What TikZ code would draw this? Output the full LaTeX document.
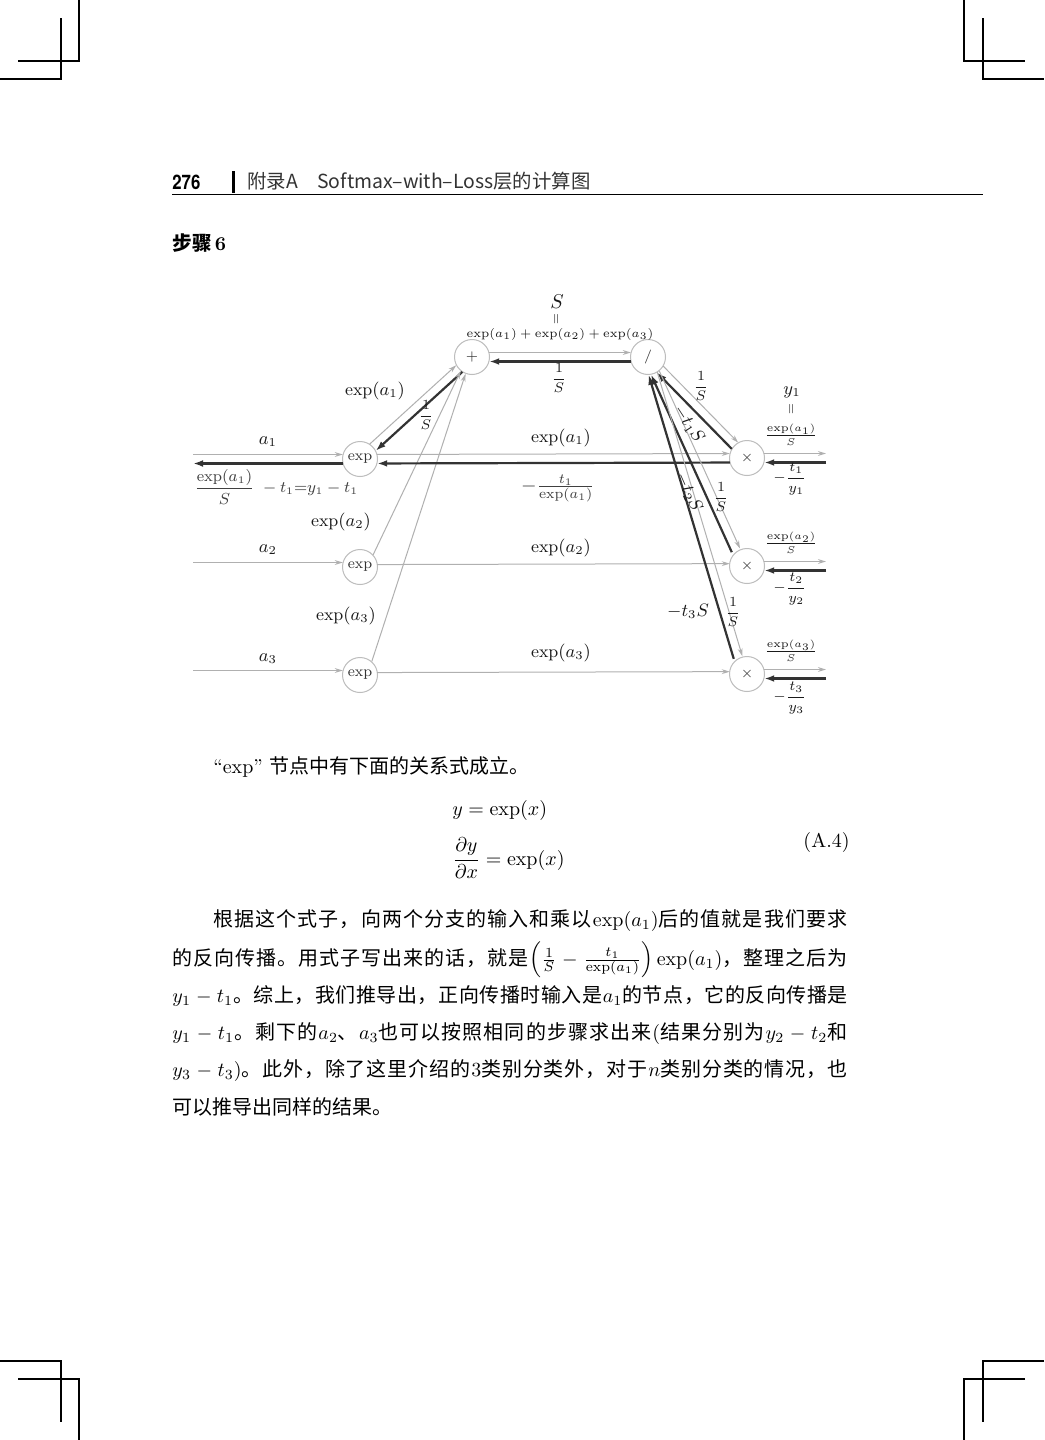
\documentclass[tikz,border=0pt]{standalone}
\usepackage{fontspec}
\usepackage{amsmath}
\usepackage{graphicx}
\usetikzlibrary{calc,arrows.meta}
\newfontfamily\cjk{Noto Sans CJK SC}
\newfontfamily\hdfont{TeX Gyre Heros}
\definecolor{lg}{HTML}{B0B0B0}
\definecolor{dk}{HTML}{333333}
\definecolor{cc}{HTML}{BDBDBD}
\definecolor{hd}{HTML}{333333}
\definecolor{tx}{HTML}{1A1A1A}
\newcommand\dgfont{\fontsize{8.7}{10}\selectfont}
\newcommand\oedge[4][]{\draw[#1] ($(#2)!#4!90:(#3)$) -- ($(#3)!#4!-90:(#2)$);}
\makeatletter
\newcommand\jz[1]{{\cjk\@tfor\jzc:=#1\do{\jzc\hskip0pt plus 1pt\relax}}}
\makeatother
\newcommand\jline[1]{\makebox[338pt][s]{#1}}
\begin{document}
\begin{tikzpicture}[x=0.5pt,y=-0.5pt,
  lbl/.style={inner sep=0pt, font=\dgfont, text=tx},
  opnode/.style={circle, draw=cc, fill=white, line width=0.5pt, minimum size=17.5pt, inner sep=0pt, font=\fontsize{7.5}{9}\selectfont, text=dk},
  fw/.style={draw=lg, line width=0.5pt, -{Stealth[length=4pt,width=2.4pt]}},
  bw/.style={draw=dk, line width=1.1pt, -{Latex[length=5pt,width=3.4pt]}},
  sh/.style={shorten >=8.6pt, shorten <=8.6pt},
  crop/.style={line width=0.8pt, draw=black},
  plain/.style={anchor=base west, inner sep=0pt, font=\fontsize{10}{12}\selectfont}
]
\fill[white] (0,0) rectangle (1044,1440);
\useasboundingbox (0,0) rectangle (1044,1440);

% crop marks
\draw[crop] (79,0) -- (79,61) -- (18,61);
\draw[crop] (61,18) -- (61,79) -- (0,79);
\draw[crop] (964,0) -- (964,61) -- (1025,61);
\draw[crop] (983,18) -- (983,79) -- (1044,79);
\draw[crop] (0,1361) -- (61,1361) -- (61,1422);
\draw[crop] (18,1379) -- (79,1379) -- (79,1440);
\draw[crop] (1044,1361) -- (983,1361) -- (983,1422);
\draw[crop] (1025,1379) -- (964,1379) -- (964,1440);

% header
\node[anchor=base west, inner sep=0pt, font=\fontsize{10}{12}\selectfont] (pgno) at (172,189) {\scalebox{0.84}[1]{\hdfont\bfseries 276}};
\fill[black] (232,171) rectangle (235,193);
\node[anchor=base west, inner sep=0pt, text=hd, font=\fontsize{9.7}{11}\selectfont] (hdr) at (247,188) {\cjk 附录A\hspace{9.7pt}Softmax–with–Loss层的计算图};
\draw[line width=0.6pt] (172,194.5) -- (983,194.5);
\node[anchor=base west, inner sep=0pt, font=\fontsize{9.8}{12}\selectfont] (step) at (172,250) {{\cjk\bfseries 步骤}\,\textbf{6}};

% nodes
\node[opnode] (plus) at (472,357) {$+$};
\node[opnode] (div) at (648,357) {$/$};
\node[opnode] (e1) at (360,459) {exp};
\node[opnode] (e2) at (360,567) {exp};
\node[opnode] (e3) at (360,675) {exp};
\node[opnode] (m1) at (747,458) {$\times$};
\node[opnode] (m2) at (747,566) {$\times$};
\node[opnode] (m3) at (747,674) {$\times$};
\coordinate (in1) at (193,459);
\coordinate (in2) at (193,567);
\coordinate (in3) at (193,675);
\coordinate (out1) at (826,458);
\coordinate (out2) at (826,566);
\coordinate (out3) at (826,674);
\coordinate (m2a) at ($(m2)+(-4,0)$);
\coordinate (m3a) at ($(m3)+(-4,0)$);

% inputs
\oedge[fw,sh,shorten <=0pt]{in1}{e1}{2.25pt}
\oedge[bw,sh,shorten >=0pt]{e1}{in1}{2.25pt}
\oedge[fw,sh,shorten <=0pt]{in2}{e2}{2.25pt}
\oedge[fw,sh,shorten <=0pt]{in3}{e3}{2.25pt}
% exp to plus
\oedge[fw,sh]{e1}{plus}{2.25pt}
\oedge[bw,sh]{plus}{e1}{2.25pt}
\draw[fw] (e2.43) -- (plus.231);
\draw[fw] (e3.49) -- (plus.249);
% exp to times
\oedge[fw,sh]{e1}{m1}{2.25pt}
\oedge[bw,sh]{m1}{e1}{2.25pt}
\oedge[fw,sh]{e2}{m2}{1.2pt}
\oedge[fw,sh]{e3}{m3}{1.2pt}
% plus to div
\oedge[fw,sh]{plus}{div}{2.25pt}
\oedge[bw,sh]{div}{plus}{2.25pt}
% div to times
\oedge[fw,sh]{div}{m1}{2.25pt}
\oedge[bw,sh]{m1}{div}{2.25pt}
\oedge[fw,sh]{div}{m2a}{2.25pt}
\oedge[bw,sh]{m2a}{div}{2.25pt}
\oedge[fw,sh]{div}{m3a}{2.25pt}
\oedge[bw,sh]{m3a}{div}{2.25pt}
% outputs
\oedge[fw,sh,shorten >=0pt]{m1}{out1}{2.25pt}
\oedge[bw,sh,shorten <=0pt]{out1}{m1}{2.25pt}
\oedge[fw,sh,shorten >=0pt]{m2}{out2}{2.25pt}
\oedge[bw,sh,shorten <=0pt]{out2}{m2}{2.25pt}
\oedge[fw,sh,shorten >=0pt]{m3}{out3}{2.25pt}
\oedge[bw,sh,shorten <=0pt]{out3}{m3}{2.25pt}

% labels top
\node[lbl, font=\fontsize{10}{12}\selectfont] (lS) at (557,302) {$S$};
\node[lbl] (lpar) at (557,319) {\rotatebox{90}{\scalebox{0.75}{$=$}}};
\node[lbl, font=\fontsize{6.1}{8}\selectfont] (lsum) at (560,334) {$\exp(a_1)+\exp(a_2)+\exp(a_3)$};
\node[lbl, font=\fontsize{7.5}{9}\selectfont] (linv) at (559,378) {$\dfrac{1}{S}$};
% left labels
\node[lbl] (le1) at (375,391) {$\exp(a_1)$};
\node[lbl, font=\fontsize{7}{9}\selectfont] (linvb) at (426,415) {$\dfrac{1}{S}$};
\node[lbl] (la1) at (268,442) {$a_1$};
\node[lbl, anchor=west, text=black!75, font=\fontsize{7.8}{9}\selectfont] (lres) at (194,487) {$\dfrac{\exp(a_1)}{S}\;-t_1{=}y_1-t_1$};
\node[lbl] (le2) at (341,522) {$\exp(a_2)$};
\node[lbl] (la2) at (268,550) {$a_2$};
\node[lbl] (le3) at (346,616) {$\exp(a_3)$};
\node[lbl] (la3) at (268,659) {$a_3$};
% middle labels
\node[lbl] (lm1) at (561,438) {$\exp(a_1)$};
\node[lbl, text=black!75, font=\fontsize{10}{12}\selectfont] (lm1b) at (558,488) {$-\frac{t_1}{\exp(a_1)}$};
\node[lbl] (lm2) at (561,548) {$\exp(a_2)$};
\node[lbl] (lm3) at (561,653) {$\exp(a_3)$};
% div-times labels
\node[lbl, font=\fontsize{7.5}{9}\selectfont] (ld1) at (701,386) {$\dfrac{1}{S}$};
\node[lbl, rotate=-57] (lt1) at (689,424) {$-t_1S$};
\node[lbl, rotate=-66] (lt2) at (689,492) {$-t_2S$};
\node[lbl, font=\fontsize{7.5}{9}\selectfont] (ld2) at (721,497) {$\dfrac{1}{S}$};
\node[lbl] (lt3) at (688,611) {$-t_3S$};
\node[lbl, font=\fontsize{7.5}{9}\selectfont] (ld3) at (733,612) {$\dfrac{1}{S}$};
% right labels
\node[lbl] (ly1) at (792,392) {$y_1$};
\node[lbl] (lpar1) at (792,409) {\rotatebox{90}{\scalebox{0.75}{$=$}}};
\node[lbl, font=\fontsize{7.6}{9}\selectfont] (lo1) at (791,435) {$\frac{\exp(a_1)}{S}$};
\node[lbl, font=\fontsize{7.5}{9}\selectfont] (lb1) at (790,479) {$-\dfrac{t_1}{y_1}$};
\node[lbl, font=\fontsize{7.6}{9}\selectfont] (lo2) at (791,543) {$\frac{\exp(a_2)}{S}$};
\node[lbl, font=\fontsize{7.5}{9}\selectfont] (lb2) at (790,589) {$-\dfrac{t_2}{y_2}$};
\node[lbl, font=\fontsize{7.6}{9}\selectfont] (lo3) at (791,651) {$\frac{\exp(a_3)}{S}$};
\node[lbl, font=\fontsize{7.5}{9}\selectfont] (lb3) at (790,698) {$-\dfrac{t_3}{y_3}$};

% text below
\node[plain] (intro) at (213,773) {``exp'' {\cjk 节点中有下面的关系式成立。}};
\node[plain] (eq1) at (452,815) {$y=\exp(x)$};
\node[plain] (eq2) at (452,865) {$\dfrac{\partial y}{\partial x}=\exp(x)$};
\node[anchor=base east, inner sep=0pt, font=\fontsize{10}{12}\selectfont] (eqno) at (850,847) {(A.4)};

\node[plain] (p1) at (172,926) {\jline{\hspace*{20.5pt}\jz{根据这个式子，向两个分支的输入和乘以}$\exp(a_1)$\jz{后的值就是我们要求}}};
\node[plain] (p2) at (172,965) {\jline{\jz{的反向传播。用式子写出来的话，就是}$\Bigl(\frac{1}{S}-\frac{t_1}{\exp(a_1)}\Bigr)\exp(a_1)$\jz{，整理之后为}}};
\node[plain] (p3) at (172,1002) {\jline{$y_1-t_1$\jz{。综上，我们推导出，正向传播时输入是}$a_1$\jz{的节点，它的反向传播是}}};
\node[plain] (p4) at (172,1039) {\jline{$y_1-t_1$\jz{。剩下的}$a_2$\jz{、}$a_3$\jz{也可以按照相同的步骤求出来}(\jz{结果分别为}$y_2-t_2$\jz{和}}};
\node[plain] (p5) at (172,1076) {\jline{$y_3-t_3$)\jz{。此外，除了这里介绍的}3\jz{类别分类外，对于}$n$\jz{类别分类的情况，也}}};
\node[plain] (p6) at (172,1114) {{\cjk 可以推导出同样的结果。}};
\end{tikzpicture}
\end{document}
